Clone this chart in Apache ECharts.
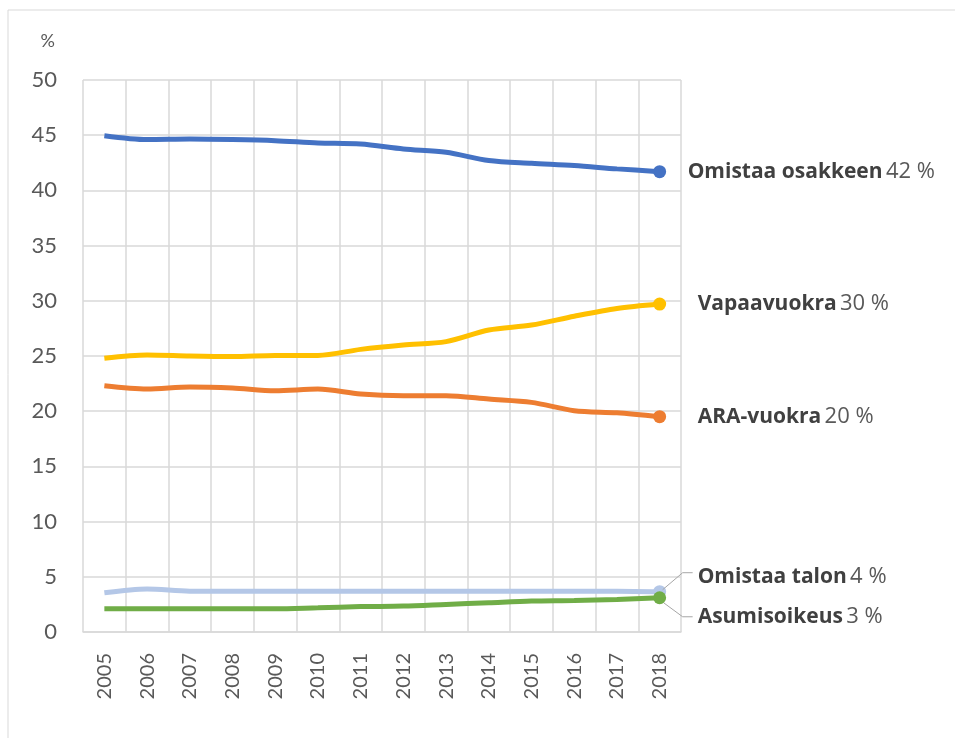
<!DOCTYPE html>
<html>
<head>
<meta charset="utf-8">
<script src="https://cdn.jsdelivr.net/npm/echarts@6/dist/echarts.min.js"></script>
<style>
html, body { margin: 0; padding: 0; background: #fff; }
#chart { width: 955px; height: 738px; }
</style>
</head>
<body>
<div id="chart"></div>
<script>
var years = ["2005", "2006", "2007", "2008", "2009", "2010", "2011", "2012", "2013", "2014", "2015", "2016", "2017", "2018"];
var osake = [44.95, 44.6, 44.65, 44.6, 44.5, 44.3, 44.2, 43.75, 43.45, 42.7, 42.45, 42.25, 41.95, 41.7];
var vapaa = [24.8, 25.1, 25.0, 24.95, 25.05, 25.05, 25.6, 26.0, 26.3, 27.35, 27.8, 28.6, 29.3, 29.7];
var ara = [22.3, 22.0, 22.2, 22.1, 21.85, 22.0, 21.55, 21.4, 21.4, 21.1, 20.8, 20.05, 19.85, 19.5];
var talo = [3.55, 3.9, 3.7, 3.7, 3.7, 3.7, 3.7, 3.7, 3.7, 3.7, 3.7, 3.7, 3.7, 3.65];
var asumis = [2.1, 2.1, 2.1, 2.1, 2.1, 2.2, 2.3, 2.35, 2.5, 2.65, 2.8, 2.85, 2.95, 3.1];
var yTicks = [0, 50, 5];

var font = "Lato, 'Open Sans', sans-serif";
var labelFont = "'Open Sans', Lato, sans-serif";
var lastIdx = years.length - 1;

function mkSeries(name, data, color, label, offset) {
    return {
        name: name,
        type: 'line',
        data: data,
        smooth: 0.3,
        symbol: 'circle',
        showSymbol: true,
        symbolSize: function (v, p) { return p.dataIndex === lastIdx ? 13 : 0; },
        lineStyle: { color: color, width: 5 },
        itemStyle: { color: color },
        emphasis: { disabled: true },
        endLabel: {
            show: true,
            offset: offset,
            formatter: '{b|' + label[0] + '} {n|' + label[1] + '}',
            rich: {
                b: { fontFamily: labelFont, fontWeight: 'bold', fontSize: 21, color: '#404040' },
                n: { fontFamily: labelFont, fontSize: 22, color: '#595959' }
            }
        }
    };
}

var chart = echarts.init(document.getElementById('chart'));
chart.setOption({
    animation: false,
    grid: { left: 83, right: 274, top: 80, bottom: 106 },
    xAxis: {
        type: 'category',
        data: years,
        boundaryGap: true,
        axisLine: { lineStyle: { color: '#d9d9d9', width: 1.5 } },
        axisTick: { show: false },
        splitLine: { show: true, interval: 0, lineStyle: { color: '#d9d9d9', width: 1.5 } },
        axisLabel: {
            interval: 0, rotate: 90, margin: 21,
            fontFamily: font, fontSize: 20, color: '#595959'
        }
    },
    yAxis: {
        type: 'value',
        min: yTicks[0], max: yTicks[1], interval: yTicks[2],
        name: '%',
        nameLocation: 'end',
        nameGap: 30,
        nameTextStyle: { fontFamily: font, fontSize: 18, color: '#595959', align: 'right', padding: [0, 28, 0, 0] },
        axisLine: { show: false },
        axisTick: { show: false },
        splitLine: { lineStyle: { color: '#d9d9d9', width: 1.5 } },
        axisLabel: { fontFamily: font, fontSize: 22, color: '#595959', margin: 26 }
    },
    series: [
        mkSeries('Omistaa talon', talo, '#B4C7E7', ['Omistaa talon', '4 %'], [30, -15]),
        mkSeries('Asumisoikeus', asumis, '#70AD47', ['Asumisoikeus', '3 %'], [30, 19]),
        mkSeries('ARA-vuokra', ara, '#ED7D31', ['ARA-vuokra', '20 %'], [30, 0]),
        mkSeries('Vapaavuokra', vapaa, '#FFC000', ['Vapaavuokra', '30 %'], [30, 0]),
        mkSeries('Omistaa osakkeen', osake, '#4472C4', ['Omistaa osakkeen', '42 %'], [20, 0])
    ]
});

// connector lines for the two small series
var pT = chart.convertToPixel({ gridIndex: 0 }, [lastIdx, talo[lastIdx]]);
var pA = chart.convertToPixel({ gridIndex: 0 }, [lastIdx, asumis[lastIdx]]);
chart.setOption({
    graphic: [
        { type: 'rect', shape: { x: 8, y: 10, width: 960, height: 740 }, style: { fill: 'none', stroke: '#d9d9d9', lineWidth: 1 }, silent: true },
        { type: 'polyline', shape: { points: [[pT[0] + 3, pT[1] - 2], [pT[0] + 23, pT[1] - 19], [pT[0] + 33, pT[1] - 19]] }, style: { stroke: '#a6a6a6', lineWidth: 1, fill: 'none' }, z: 10 },
        { type: 'polyline', shape: { points: [[pA[0] + 4, pA[1] + 5], [pA[0] + 23, pA[1] + 19], [pA[0] + 33, pA[1] + 19]] }, style: { stroke: '#a6a6a6', lineWidth: 1, fill: 'none' }, z: 10 }
    ]
});
</script>
</body>
</html>
